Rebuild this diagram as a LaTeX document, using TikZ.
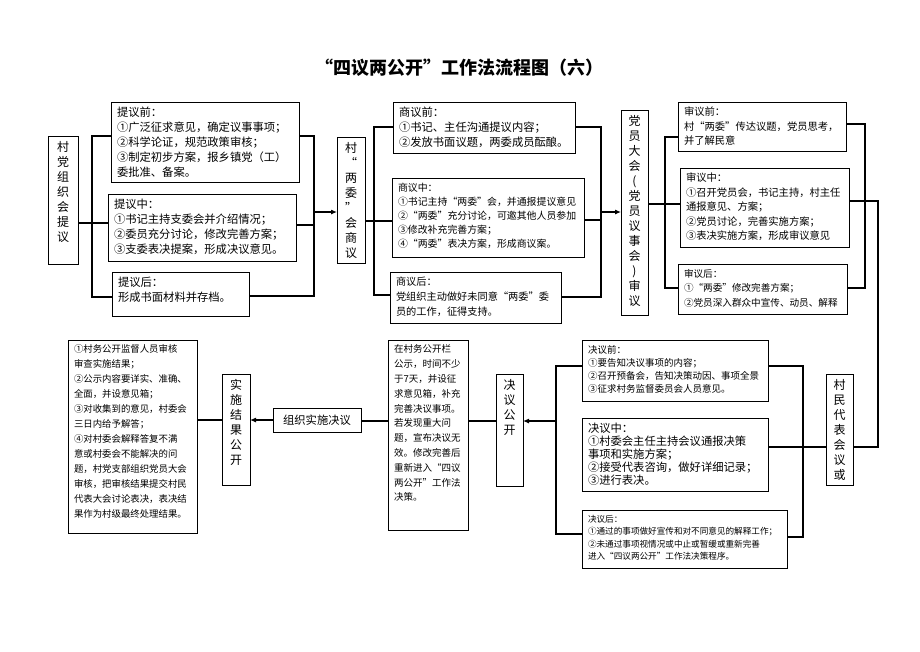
\documentclass[tikz,border=0pt]{standalone}
\usepackage{fontspec}
\setmainfont{Noto Sans CJK SC}
\usetikzlibrary{arrows.meta}
\newcommand\tbox[7]{\node[blk,#6] (#1) at (#2,#3) {\parbox[c][\dimexpr#5pt-10pt\relax][t]{\dimexpr#4pt-12pt\relax}{\raggedright #7}};}
\newcommand\vtbox[6]{\node[blk,vfont] (#1) at (#2,#3) {\parbox[c][\dimexpr#5pt-10pt\relax][t]{\dimexpr#4pt-12pt\relax}{\centering #6}};}
\tikzset{
  blk/.style={draw=black, line width=1pt, inner xsep=6pt, inner ysep=5pt, anchor=north west, outer sep=0pt},
  vfont/.style={font=\fontsize{12}{15}\selectfont},
  txtA/.style={font=\fontsize{11.3}{15}\selectfont},
  txtB/.style={font=\fontsize{9.9}{14}\selectfont},
  txtC/.style={font=\fontsize{10.3}{14.5}\selectfont},
  txtD/.style={font=\fontsize{9.6}{14.5}\selectfont},
  txtE/.style={font=\fontsize{9.5}{13}\selectfont},
  txtF/.style={font=\fontsize{11.3}{13}\selectfont},
  txtG/.style={font=\fontsize{8.6}{12.5}\selectfont},
  txtH/.style={font=\fontsize{9.5}{14.8}\selectfont},
  txtI/.style={font=\fontsize{9.4}{15}\selectfont},
  txtS/.style={font=\fontsize{10.2}{15}\selectfont},
  ln/.style={line width=1.1pt, draw=black},
  arr/.style={ln, -{Latex[length=6pt,width=5pt]}},
}
\begin{document}
\begin{tikzpicture}[x=1pt,y=-1pt]
\fill[white] (0,0) rectangle (920,651);
\path[use as bounding box] (0,0) rectangle (920,651);

\node[font=\fontsize{18}{18}\selectfont\bfseries] (title) at (459,68) {“四议两公开”工作法流程图（六）};

% ---------- 提议 ----------
\vtbox{A}{48}{136}{30}{128}{村\\党\\组\\织\\会\\提\\议}
\tbox{tq}{111}{102}{188}{80}{txtA}{提议前：\\①广泛征求意见，确定议事事项；\\②科学论证，规范政策审核；\\③制定初步方案，报乡镇党（工）\\委批准、备案。}
\tbox{tz}{108}{194}{188}{67}{txtA}{提议中：\\①书记主持支委会并介绍情况；\\②委员充分讨论，修改完善方案；\\③支委表决提案，形成决议意见。}
\tbox{th}{112}{272}{137}{44}{txtA}{提议后：\\形成书面材料并存档。}

% ---------- 商议 ----------
\vtbox{B}{337}{137}{28}{126}{村\\“\\两\\委\\”\\会\\商\\议}
\tbox{sq}{393}{102}{182}{51}{txtA}{商议前：\\①书记、主任沟通提议内容；\\②发放书面议题，两委成员酝酿。}
\tbox{sz}{392}{178}{192}{79}{txtB}{商议中：\\①书记主持“两委”会，并通报提议意见\\②“两委”充分讨论，可邀其他人员参加\\③修改补充完善方案；\\④“两委”表决方案，形成商议案。}
\tbox{sh}{390}{272}{171}{51}{txtS}{商议后：\\党组织主动做好未同意“两委”委\\员的工作，征得支持。}

% ---------- 审议 ----------
\vtbox{C}{621}{110}{27}{205}{党\\员\\大\\会\\(\\党\\员\\议\\事\\会\\)\\审\\议}
\tbox{yq}{678}{102}{168}{49}{txtC}{审议前：\\村“两委”传达议题，党员思考，\\并了解民意}
\tbox{yz}{680}{168}{169}{79}{txtC}{审议中：\\①召开党员会，书记主持，村主任\\通报意见、方案；\\②党员讨论，完善实施方案；\\③表决实施方案，形成审议意见}
\tbox{yh}{678}{264}{169}{50}{txtD}{审议后：\\①“两委”修改完善方案；\\②党员深入群众中宣传、动员、解释}

% ---------- 决议 ----------
\vtbox{D}{826}{374}{27}{111}{村\\民\\代\\表\\会\\议\\或}
\tbox{jq}{582}{340}{186}{61}{txtE}{决议前：\\①要告知决议事项的内容；\\②召开预备会，告知决策动因、事项全景\\③征求村务监督委员会人员意见。}
\tbox{jz}{582}{418}{186}{73}{txtF}{决议中：\\①村委会主任主持会议通报决策\\事项和实施方案；\\②接受代表咨询，做好详细记录；\\③进行表决。}
\tbox{jh}{582}{510}{205}{58}{txtG}{决议后：\\①通过的事项做好宣传和对不同意见的解释工作；\\②未通过事项视情况或中止或暂缓或重新完善\\进入“四议两公开”工作法决策程序。}

% ---------- bottom chain ----------
\vtbox{E}{496}{374}{27}{112}{决\\议\\公\\开}
\tbox{F}{388}{340}{80}{190}{txtH}{在村务公开栏\\公示，时间不少\\于7天，并设征\\求意见箱，补充\\完善决议事项。\\若发现重大问\\题，宣布决议无\\效。修改完善后\\重新进入“四议\\两公开”工作法\\决策。}
\node[blk, txtA, minimum width=88pt, minimum height=24pt] (G) at (273,408) {组织实施决议};
\vtbox{H}{222}{374}{28}{111}{实\\施\\结\\果\\公\\开}
\tbox{I}{68}{340}{129}{193}{txtI}{①村务公开监督人员审核\\审查实施结果；\\②公示内容要详实、准确、\\全面，并设意见箱；\\③对收集到的意见，村委会\\三日内给予解答；\\④对村委会解释答复不满\\意或村委会不能解决的问\\题，村党支部组织党员大会\\审核，把审核结果提交村民\\代表大会讨论表决，表决结\\果作为村级最终处理结果。}

% ---------- connectors: 提议 ----------
\coordinate (a1) at (92,136); \coordinate (a2) at (92,297); \coordinate (a3) at (92,223);
\draw[ln] (A.east |- a3) -- (tz.west |- a3);
\draw[ln] (tq.west |- a1) -- (a1) -- (a2) -- (th.west |- a2);
\coordinate (b1) at (314,136); \coordinate (b2) at (314,296); \coordinate (b3) at (314,225); \coordinate (b4) at (314,212);
\draw[ln] (tq.east |- b1) -- (b1) -- (b2) -- (th.east |- b2);
\draw[ln] (tz.east |- b3) -- (b3);
\draw[arr] (b4) -- (B.west |- b4);

% ---------- connectors: 商议 ----------
\coordinate (c1) at (374,127); \coordinate (c2) at (374,295); \coordinate (c3) at (374,221);
\draw[ln] (B.east |- c3) -- (sz.west |- c3);
\draw[ln] (sq.west |- c1) -- (c1) -- (c2) -- (sh.west |- c2);
\coordinate (d1) at (601,127); \coordinate (d2) at (601,297); \coordinate (d3) at (601,220); \coordinate (d4) at (601,212);
\draw[ln] (sq.east |- d1) -- (d1) -- (d2) -- (sh.east |- d2);
\draw[ln] (sz.east |- d3) -- (d3);
\draw[arr] (d4) -- (C.west |- d4);

% ---------- connectors: 审议 ----------
\coordinate (e1) at (665,137); \coordinate (e2) at (665,288); \coordinate (e3) at (665,204);
\draw[ln] (C.east |- e3) -- (yz.west |- e3);
\draw[ln] (yq.west |- e1) -- (e1) -- (e2) -- (yh.west |- e2);
\coordinate (f1) at (865,124); \coordinate (f2) at (865,288);
\draw[ln] (yq.east |- f1) -- (f1) -- (f2) -- (yh.east |- f2);
\coordinate (g1) at (878,201); \coordinate (g2) at (878,447);
\draw[ln] (yz.east |- g1) -- (g1) -- (g2) -- (D.east |- g2);

% ---------- connectors: 决议 ----------
\coordinate (h1) at (803,366); \coordinate (h2) at (803,537); \coordinate (h3) at (803,447);
\draw[ln] (jq.east |- h1) -- (h1) -- (h2) -- (jh.east |- h2);
\draw[ln] (jz.east |- h3) -- (D.west |- h3);
\coordinate (k1) at (556,366); \coordinate (k2) at (556,534); \coordinate (k3) at (556,421);
\draw[ln] (jq.west |- k1) -- (k1) -- (k2) -- (jh.west |- k2);
\draw[arr] (k3) -- (E.east |- k3);

% ---------- bottom chain ----------
\coordinate (m1) at (470,421);
\draw[ln] (E.west |- m1) -- (F.east |- m1);
\draw[ln] (F.west |- m1) -- (G.east |- m1);
\coordinate (m2) at (250,420);
\draw[arr] (G.west |- m2) -- (H.east |- m2);
\draw[ln] (H.west |- m2) -- (I.east |- m2);
\end{tikzpicture}
\end{document}
